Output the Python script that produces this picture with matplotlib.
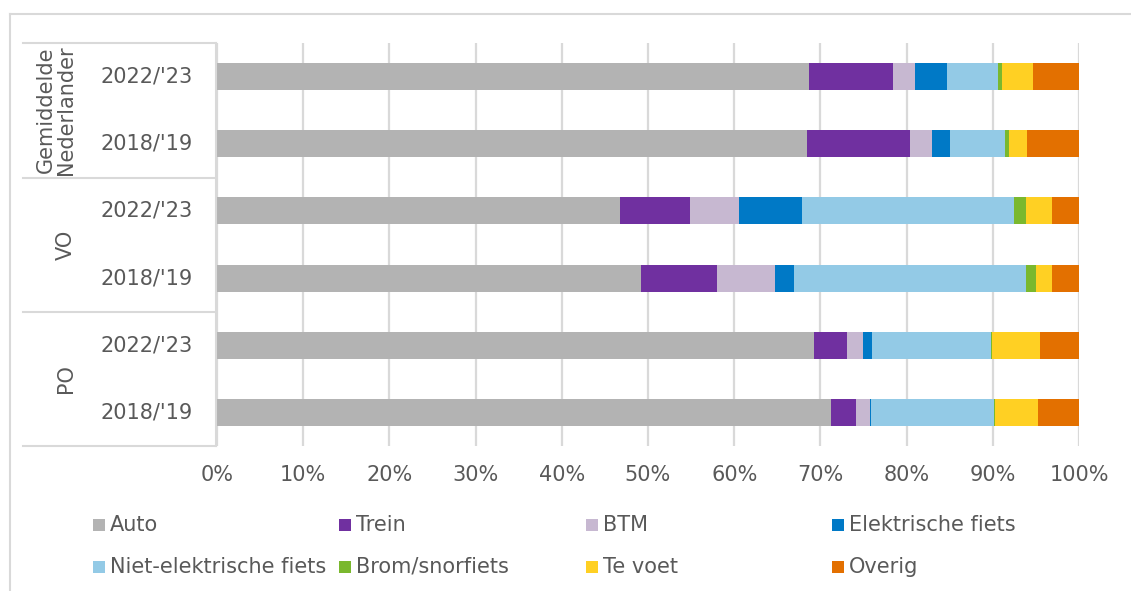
import matplotlib.pyplot as plt
from matplotlib.lines import Line2D
from matplotlib.patches import Rectangle
from matplotlib.ticker import PercentFormatter, MultipleLocator

# === Data: share of trips per transport mode (%) ===
groups = ["Gemiddelde\nNederlander", "VO", "PO"]
years = ["2022/'23", "2018/'19"]
modes = ["Auto", "Trein", "BTM", "Elektrische fiets",
         "Niet-elektrische fiets", "Brom/snorfiets", "Te voet", "Overig"]
colors = ["#b3b3b3", "#7030a0", "#c7b8d1", "#0079c6",
          "#93cae6", "#7ab82e", "#ffd023", "#e37000"]

# rows top to bottom: NL 22/23, NL 18/19, VO 22/23, VO 18/19, PO 22/23, PO 18/19
auto = [68.7, 68.4, 46.8, 49.2, 69.2, 71.2]
trein = [9.7, 12.0, 8.1, 8.8, 3.9, 2.9]
btm = [2.6, 2.6, 5.7, 6.7, 1.8, 1.6]
e_fiets = [3.7, 2.0, 7.3, 2.2, 1.1, 0.2]
fiets = [5.9, 6.4, 24.6, 27.0, 13.8, 14.2]
brom = [0.5, 0.5, 1.3, 1.1, 0.1, 0.1]
te_voet = [3.6, 2.1, 3.1, 1.9, 5.6, 5.0]
overig = [5.3, 6.0, 3.1, 3.1, 4.5, 4.8]
series = [auto, trein, btm, e_fiets, fiets, brom, te_voet, overig]

W, H = 1131, 591
txt = "#595959"
line_c = "#d9d9d9"
plt.rcParams["font.family"] = "DejaVu Sans"
plt.rcParams["font.size"] = 15

fig = plt.figure(figsize=(W / 100, H / 100), dpi=100)
ax_w = 1079 - 217
ax = fig.add_axes([217 / W, 1 - 446 / H, ax_w / W, (446 - 43) / H])

n = len(auto)
ypos = list(range(n))
left = [0.0] * n
for name, vals, col in zip(modes, series, colors):
    ax.barh(ypos, vals, left=left, height=0.4, color=col, linewidth=0, label=name, zorder=3)
    left = [a + b for a, b in zip(left, vals)]

ax.set_xlim(0, 100)
ax.set_ylim(n - 0.5, -0.5)
ax.xaxis.set_major_locator(MultipleLocator(10))
ax.xaxis.set_major_formatter(PercentFormatter(decimals=0))
ax.set_yticks([])
ax.tick_params(axis="x", length=0, pad=14, colors=txt, labelsize=15)
ax.grid(axis="x", color=line_c, linewidth=1.6, zorder=0)
for s in ax.spines.values():
    s.set_visible(False)


def px(x0, y0, x1, y1):
    # line in pixel coordinates measured from the top-left corner
    fig.add_artist(Line2D([x0 / W, x1 / W], [1 - y0 / H, 1 - y1 / H],
                          color=line_c, linewidth=1.5))


# category table on the left
for yb in [43, 178, 312, 446]:
    px(23, yb, 216, yb)
px(216, 43, 216, 446)

# outer chart frame (only top and left edges fall inside the image)
px(10, 14, W + 5, 14)
px(10, 14, 10, H + 5)

ytrans = ax.get_yaxis_transform()
for i in range(n):
    ax.text(-70 / ax_w, i, years[i % 2], transform=ytrans,
            color=txt, ha="center", va="center", fontsize=15, clip_on=False)
for g, name in enumerate(groups):
    ax.text(-141 / ax_w, 2 * g + 0.5, name, transform=ytrans, rotation=90,
            color=txt, ha="right", va="center", fontsize=15, linespacing=1.0,
            multialignment="center", clip_on=False)

# legend, four equally spaced columns
for i, (name, col) in enumerate(zip(modes, colors)):
    r, c = divmod(i, 4)
    x0 = 93 + c * 246.3
    yc = 525 + r * 42
    fig.add_artist(Rectangle((x0 / W, 1 - (yc + 6) / H), 12 / W, 12 / H,
                             transform=fig.transFigure, color=col, linewidth=0))
    fig.text((x0 + 17) / W, 1 - yc / H, name, color=txt, ha="left", va="center", fontsize=15)

fig.savefig("out.png", dpi=100)
